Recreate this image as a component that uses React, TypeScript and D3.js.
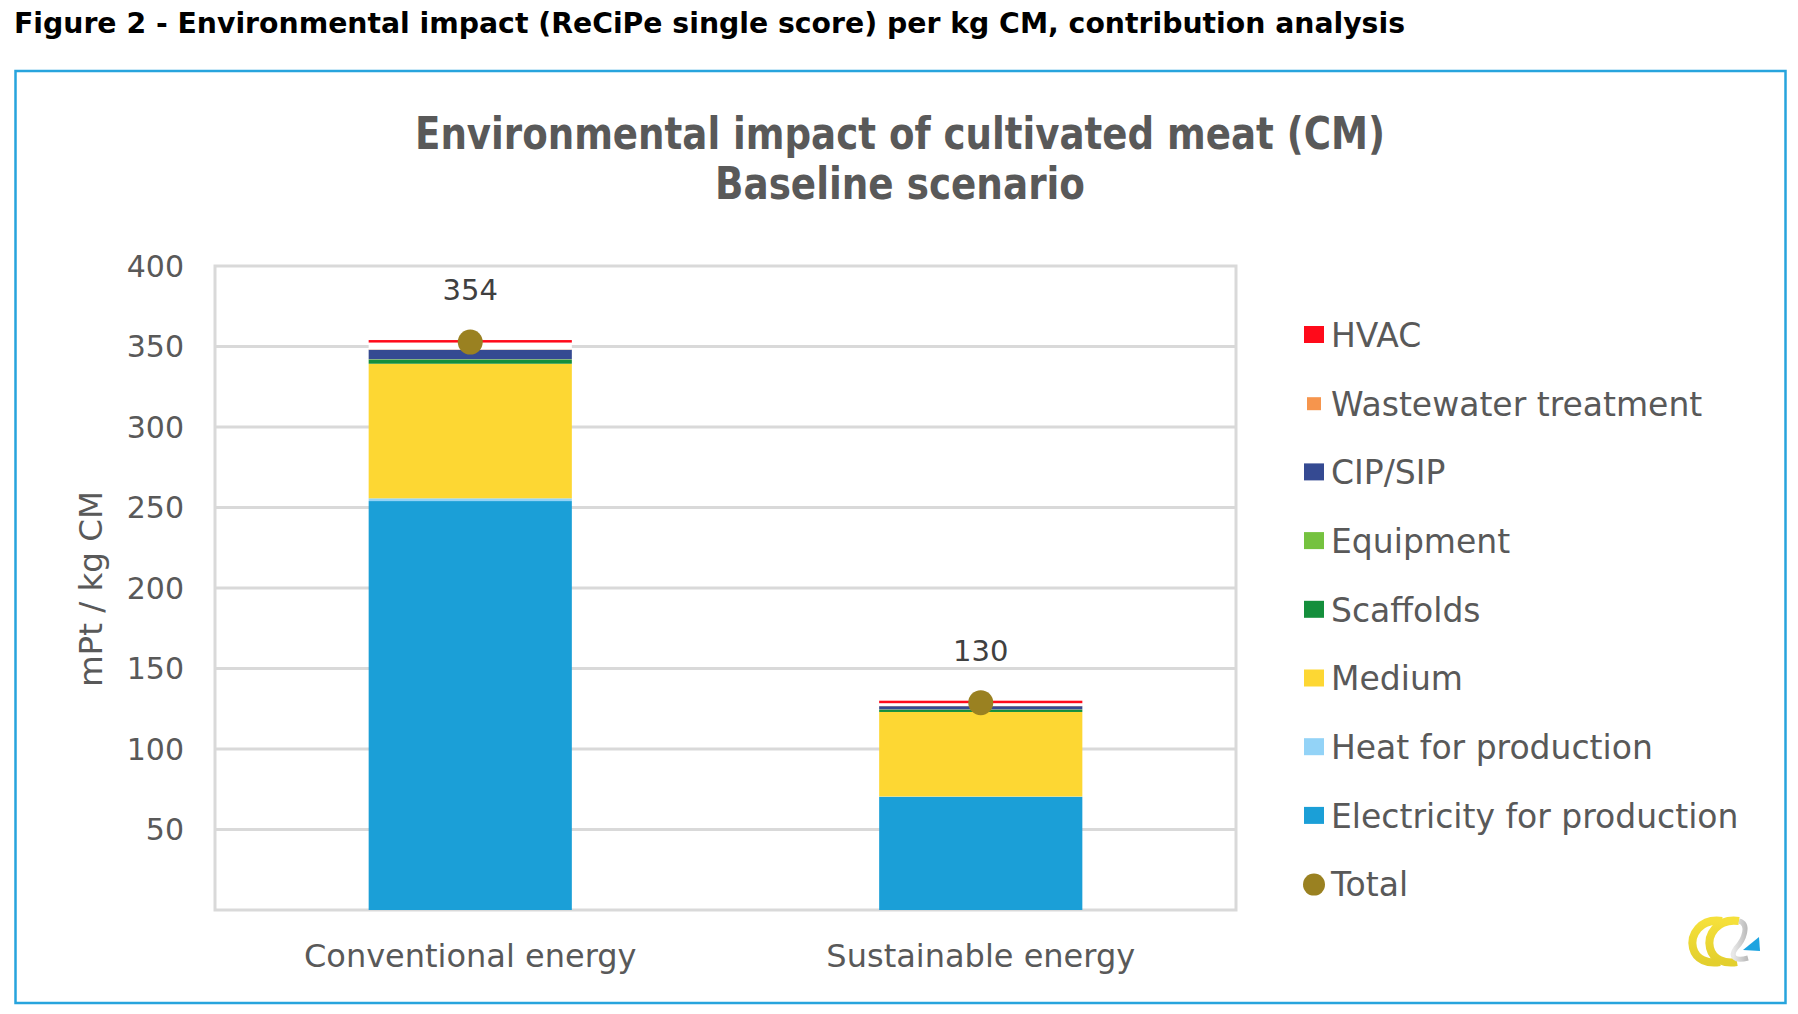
import React from "react";
import * as d3 from "d3";

const categories = ["Conventional energy", "Sustainable energy"];
const seriesKeys = [
  "Electricity for production",
  "Heat for production",
  "Medium",
  "Scaffolds",
  "Equipment",
  "CIP/SIP",
  "Wastewater treatment",
  "HVAC",
];
const electricity = [254.0, 70.2];
const heat = [1.7, 0.3];
const medium = [83.6, 52.5];
const scaffolds = [2.4, 1.3];
const equipment = [0.4, 0.3];
const cipSip = [5.9, 2.0];
const wastewater = [0.2, 0.2];
const hvac = [5.8, 3.2];
const totals = [354, 130];
const totalLabels = ["354", "130"];
const yTicks = [50, 100, 150, 200, 250, 300, 350, 400];

const colors: Record<string, string> = {
  "Electricity for production": "#1b9fd7",
  "Heat for production": "#93d3f7",
  Medium: "#fdd733",
  Scaffolds: "#148f3c",
  Equipment: "#75c23f",
  "CIP/SIP": "#354a92",
  "Wastewater treatment": "#f6954d",
  HVAC: "#ff0a1a",
};
const legendOrder = [
  "HVAC",
  "Wastewater treatment",
  "CIP/SIP",
  "Equipment",
  "Scaffolds",
  "Medium",
  "Heat for production",
  "Electricity for production",
  "Total",
];
const totalColor = "#9a8121";
const textColor = "#595959";
const gridColor = "#d9d9d9";
const font = "'DejaVu Sans', Verdana, sans-serif";

export default function App() {
  const W = 1798;
  const H = 1014;
  const plot = { left: 215, right: 1236, top: 266, bottom: 910 };
  const y = d3.scaleLinear().domain([0, 400]).range([plot.bottom, plot.top]);
  const x = d3
    .scalePoint<string>()
    .domain(categories)
    .range([plot.left, plot.right])
    .padding(0.5);
  const step = x.step();
  const barW = step * 0.398;

  const rows = categories.map((c, i) => ({
    cat: c,
    "Electricity for production": electricity[i],
    "Heat for production": heat[i],
    Medium: medium[i],
    Scaffolds: scaffolds[i],
    Equipment: equipment[i],
    "CIP/SIP": cipSip[i],
    "Wastewater treatment": wastewater[i],
    HVAC: hvac[i],
  }));
  const stacked = d3.stack<any>().keys(seriesKeys)(rows);

  const legendX = 1304;
  const legendY0 = 335;
  const legendStep = 68.7;

  return (
    <svg
      width={W}
      height={H}
      style={{ position: "absolute", left: 0, top: 0, background: "#fff" }}
      fontFamily={font}
    >
      <rect x={0} y={0} width={W} height={H} fill="#fff" />
      {/* Figure caption */}
      <text
        x={14}
        y={33}
        fontSize={29}
        fontWeight="bold"
        fill="#000"
        fontFamily="'Liberation Sans Narrow', 'DejaVu Sans Condensed', 'DejaVu Sans', sans-serif"
        textLength={1391}
        lengthAdjust="spacingAndGlyphs"
      >
        Figure 2 - Environmental impact (ReCiPe single score) per kg CM, contribution analysis
      </text>
      {/* outer frame */}
      <rect x={15.5} y={71} width={1770} height={932} fill="none" stroke="#27a4dd" strokeWidth={2.5} />

      {/* chart title */}
      <text
        x={900}
        y={149}
        textAnchor="middle"
        fontSize={45}
        fontWeight="bold"
        fill={textColor}
        fontFamily="'Liberation Sans Narrow', 'DejaVu Sans Condensed', 'DejaVu Sans', sans-serif"
        textLength={970}
        lengthAdjust="spacingAndGlyphs"
      >
        Environmental impact of cultivated meat (CM)
      </text>
      <text
        x={900}
        y={199}
        textAnchor="middle"
        fontSize={45}
        fontWeight="bold"
        fill={textColor}
        fontFamily="'Liberation Sans Narrow', 'DejaVu Sans Condensed', 'DejaVu Sans', sans-serif"
        textLength={370}
        lengthAdjust="spacingAndGlyphs"
      >
        Baseline scenario
      </text>

      {/* gridlines */}
      {yTicks
        .filter((t) => t < 400)
        .map((t) => (
          <line
            key={t}
            x1={plot.left}
            x2={plot.right}
            y1={y(t)}
            y2={y(t)}
            stroke={gridColor}
            strokeWidth={3}
          />
        ))}
      <rect
        x={plot.left}
        y={plot.top}
        width={plot.right - plot.left}
        height={plot.bottom - plot.top}
        fill="none"
        stroke={gridColor}
        strokeWidth={3}
      />
      {/* y tick labels */}
      {yTicks.map((t) => (
        <text
          key={t}
          x={184}
          y={y(t)}
          dy="0.36em"
          textAnchor="end"
          fontSize={30}
          fill={textColor}
        >
          {t}
        </text>
      ))}
      <text
        transform={`translate(102, 589) rotate(-90)`}
        textAnchor="middle"
        fontSize={32.5}
        fill={textColor}
      >
        mPt / kg CM
      </text>

      {/* bars */}
      {stacked.map((layer) =>
        layer.map((d, i) => {
          const cx = x(categories[i]) as number;
          const y0 = y(d[0]);
          const y1 = y(d[1]);
          const h = Math.max(0, y0 - y1);
          if (layer.key === "HVAC") {
            return (
              <g key={layer.key + i}>
                <rect x={cx - barW / 2} y={y1} width={barW} height={h} fill="#fff" />
                <rect x={cx - barW / 2} y={y1} width={barW} height={2.5} fill={colors.HVAC} />
              </g>
            );
          }
          return (
            <rect
              key={layer.key + i}
              x={cx - barW / 2}
              y={y1}
              width={barW}
              height={h}
              fill={colors[layer.key]}
            />
          );
        })
      )}

      {/* totals */}
      {categories.map((c, i) => (
        <g key={c}>
          <circle cx={x(c) as number} cy={y(totals[i]) + 2} r={12.5} fill={totalColor} />
          <text
            x={x(c) as number}
            y={y(totals[i]) - 40}
            textAnchor="middle"
            fontSize={29}
            fill="#404040"
          >
            {totalLabels[i]}
          </text>
        </g>
      ))}

      {/* x labels */}
      {categories.map((c) => (
        <text
          key={c}
          x={x(c) as number}
          y={967}
          textAnchor="middle"
          fontSize={32}
          fill={textColor}
        >
          {c}
        </text>
      ))}

      {/* legend */}
      {legendOrder.map((k, i) => {
        const cy = legendY0 + i * legendStep;
        return (
          <g key={k}>
            {k === "Total" ? (
              <circle cx={legendX + 10} cy={cy} r={11} fill={totalColor} />
            ) : k === "Wastewater treatment" ? (
              <rect x={legendX + 3} y={cy - 6.5} width={14} height={13} fill={colors[k]} />
            ) : (
              <rect x={legendX} y={cy - 9} width={20} height={17} fill={colors[k]} />
            )}
            <text x={1331} y={cy} dy="0.36em" fontSize={33} fill={textColor}>
              {k}
            </text>
          </g>
        );
      })}

      {/* logo */}
      <defs>
        <linearGradient id="yg" x1="0" y1="0" x2="0" y2="1">
          <stop offset="0" stopColor="#f5e03a" />
          <stop offset="1" stopColor="#e3cf2e" />
        </linearGradient>
        <linearGradient id="gg" x1="0" y1="0" x2="1" y2="0">
          <stop offset="0" stopColor="#e8e8e8" />
          <stop offset="1" stopColor="#b8b8b8" />
        </linearGradient>
      </defs>
      <g>
        <path d="M1722,921 C1700,918 1690,935 1693,948 C1696,960 1708,964 1720,962" fill="none" stroke="url(#yg)" strokeWidth={8} />
        <path d="M1739,921 C1717,918 1707,935 1710,948 C1713,960 1725,964 1737,962" fill="none" stroke="url(#yg)" strokeWidth={8} />
        <path d="M1739,921 C1750,924 1744,940 1736,948 C1730,956 1734,962 1748,958" fill="none" stroke="url(#gg)" strokeWidth={5} />
        <path d="M1743,950 L1759,937 L1760,951 Z" fill="#1ea4e0" />
      </g>
    </svg>
  );
}
